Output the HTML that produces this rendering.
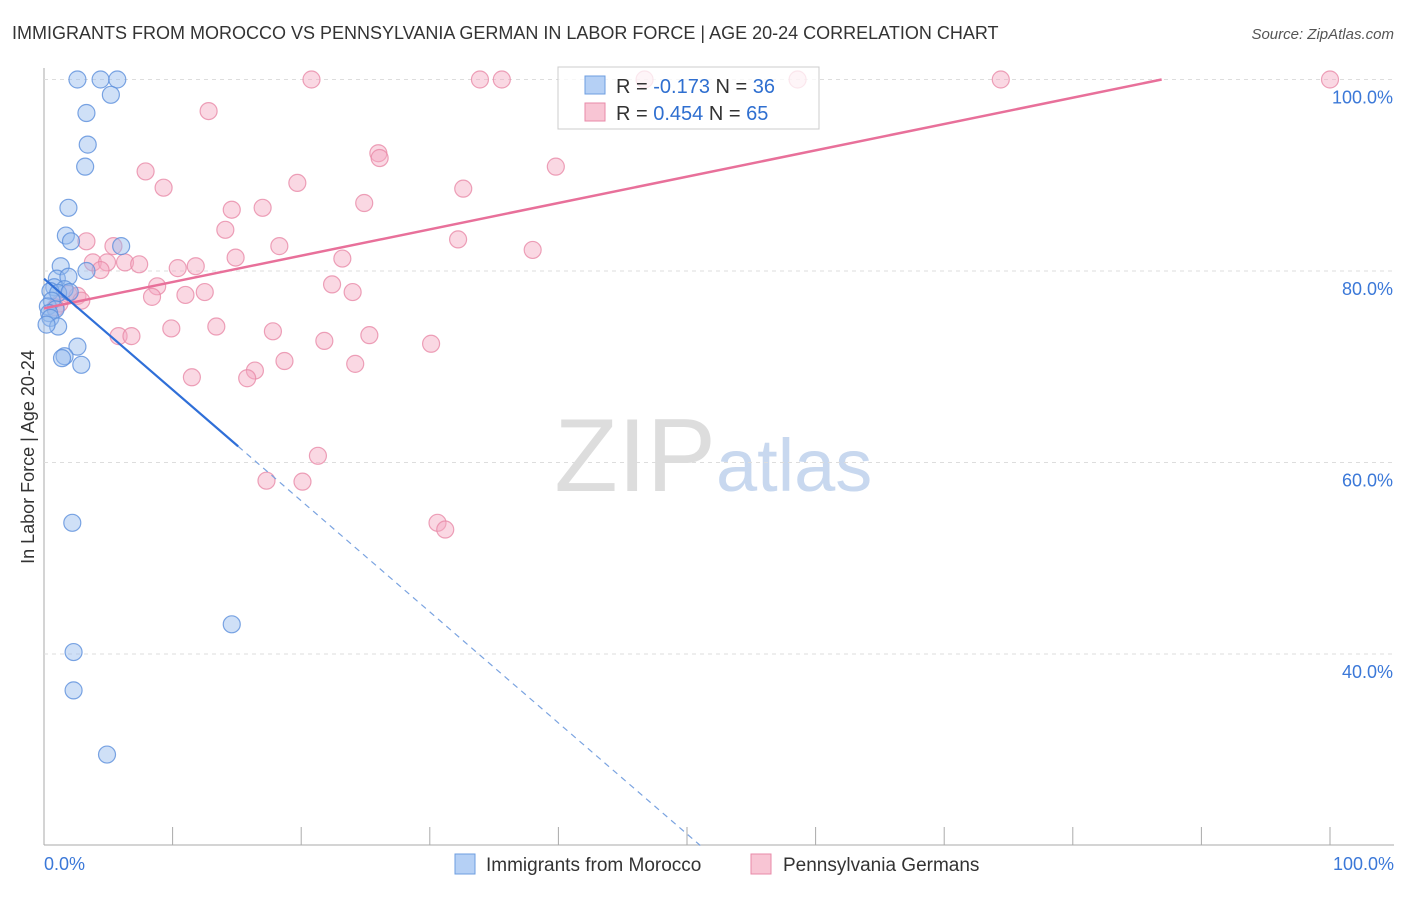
<!DOCTYPE html>
<html><head><meta charset="utf-8"><style>
body{margin:0;background:#fff;font-family:"Liberation Sans",sans-serif;}
svg text{font-family:"Liberation Sans",sans-serif;}
</style></head><body>
<svg id="c" width="1406" height="892">
<text x="12" y="39" font-size="18" fill="#333">IMMIGRANTS FROM MOROCCO VS PENNSYLVANIA GERMAN IN LABOR FORCE | AGE 20-24 CORRELATION CHART</text>
<text x="1394" y="39" font-size="15" fill="#555" font-style="italic" text-anchor="end">Source: ZipAtlas.com</text>
<text x="716" y="491" font-size="104" fill="#ddd" text-anchor="end" font-family="Liberation Serif">ZIP</text>
<text x="716" y="491" font-size="74" fill="#c8d8ef">atlas</text>
<text transform="translate(34,457) rotate(-90)" font-size="18" fill="#333" text-anchor="middle">In Labor Force | Age 20-24</text>
<g id="grid"></g><g id="marks"></g>
<g>
<rect x="558" y="67" width="261" height="62" fill="#fff" fill-opacity="0.75" stroke="#ccc"/>
<rect x="585" y="76" width="20" height="18" fill="#b5d0f5" stroke="#6d9ee0"/>
<text x="616" y="93" font-size="20" fill="#333">R = <tspan fill="#2f6fd0">-0.173</tspan>   N = <tspan fill="#2f6fd0">36</tspan></text>
<rect x="585" y="103" width="20" height="18" fill="#f8c5d4" stroke="#e88aa8"/>
<text x="616" y="120" font-size="20" fill="#333">R =  <tspan fill="#2f6fd0">0.454</tspan>   N = <tspan fill="#2f6fd0">65</tspan></text>
</g>
<g>
<rect x="455" y="854" width="20" height="20" fill="#b5d0f5" stroke="#6d9ee0"/>
<text x="486" y="871" font-size="19" fill="#333">Immigrants from Morocco</text>
<rect x="751" y="854" width="20" height="20" fill="#f8c5d4" stroke="#e88aa8"/>
<text x="783" y="871" font-size="19" fill="#333">Pennsylvania Germans</text>
</g>
</svg>
<script>
const yTicks=[40,60,80,100];
const xTickLabels=["0.0%","100.0%"];
const blueX=[2.6,4.4,5.7,5.2,3.3,3.4,3.2,1.9,1.7,2.1,6.0,1.3,3.3,1.0,1.9,0.8,1.6,0.5,1.1,2.0,0.6,0.3,0.9,0.4,0.5,1.1,0.2,2.6,1.6,1.4,2.9,2.2,14.6,2.3,2.3,4.9];
const blueY=[100,100,100,98.4,96.5,93.2,90.9,86.6,83.7,83.1,82.6,80.5,80.0,79.2,79.4,78.3,78.1,77.9,77.7,77.8,76.9,76.3,76.0,75.6,75.1,74.2,74.4,72.1,71.1,70.9,70.2,53.7,43.1,40.2,36.2,29.5];
const pinkX=[20.8,33.9,35.6,46.7,58.6,74.4,100,12.8,26.0,26.1,7.9,9.3,39.8,19.7,32.6,24.9,14.6,17.0,14.1,3.3,32.2,5.4,18.3,38.0,6.3,14.9,3.8,4.9,7.4,4.4,10.4,11.8,23.2,8.8,22.4,12.5,11.0,8.4,24.0,1.9,2.6,2.9,1.2,0.9,13.4,9.9,5.8,6.8,17.8,25.3,21.8,30.1,18.7,24.2,16.4,11.5,15.8,21.3,17.3,20.1,30.6,31.2];
const pinkY=[100,100,100,100,100,100,100,96.7,92.3,91.8,90.4,88.7,90.9,89.2,88.6,87.1,86.4,86.6,84.3,83.1,83.3,82.6,82.6,82.2,80.9,81.4,80.9,80.9,80.7,80.1,80.3,80.5,81.3,78.4,78.6,77.8,77.5,77.3,77.8,77.6,77.4,76.9,76.6,76.2,74.2,74.0,73.2,73.2,73.7,73.3,72.7,72.4,70.6,70.3,69.6,68.9,68.8,60.7,58.1,58.0,53.7,53.0];
const blueTrend=[79.2,-1.16];  // intercept, slope
const pinkTrend=[76.1,0.275];
const X=v=>44+v*12.86, Y=v=>79.5+(100-v)*9.575;
const NS="http://www.w3.org/2000/svg";
function mk(p,t,a){const e=document.createElementNS(NS,t);for(const k in a)e.setAttribute(k,a[k]);p.appendChild(e);return e;}
const g=document.getElementById('grid'),m=document.getElementById('marks');
let ax=mk(g,'line',{x1:44,y1:68,x2:44,y2:845,stroke:'#aaa'});


let bx=mk(g,'line',{x1:44,y1:845,x2:1394,y2:845,stroke:'#aaa'});


for(let i=1;i<=10;i++){const t=mk(g,'line',{x1:X(i*10),y1:827,x2:X(i*10),y2:845,stroke:'#aaa'});

}
yTicks.forEach(v=>{const l=mk(g,'line',{x1:44,y1:Y(v),x2:1394,y2:Y(v),stroke:'#ddd','stroke-dasharray':'4,4'});


const t=mk(g,'text',{x:1393,y:Y(v)+24,'font-size':18,fill:'#3b78d8','text-anchor':'end'});t.textContent=v.toFixed(1)+'%';

});
[[0,'start',44],[1,'end',1394]].forEach(([i,a,x])=>{const t=mk(g,'text',{x:x,y:870,'font-size':18,fill:'#3b78d8','text-anchor':a});t.textContent=xTickLabels[i];

});
function dots(xs,ys,f,s,n){xs.forEach((x,i)=>{const c=mk(m,'circle',{cx:X(x),cy:Y(ys[i]),r:8.5,fill:f,'fill-opacity':0.45,stroke:s,'stroke-opacity':0.8,'stroke-width':1.2});

});}
dots(pinkX,pinkY,'#f5a9c0','#e88aa8','pink-point');
dots(blueX,blueY,'#94bbee','#5b8fdc','blue-point');
const px2=(100-pinkTrend[0])/pinkTrend[1];
let pl=mk(m,'line',{x1:X(0),y1:Y(pinkTrend[0]),x2:X(px2),y2:Y(100),stroke:'#e8709a','stroke-width':2.5});


const bs=15.1,be=(20-blueTrend[0])/blueTrend[1];
let bl=mk(m,'line',{x1:X(0),y1:Y(blueTrend[0]),x2:X(bs),y2:Y(blueTrend[0]+blueTrend[1]*bs),stroke:'#2f6fd8','stroke-width':2.2});


let bd=mk(m,'line',{x1:X(bs),y1:Y(blueTrend[0]+blueTrend[1]*bs),x2:X(be),y2:Y(20),stroke:'#7aa3e0','stroke-width':1.2,'stroke-dasharray':'6,5'});


</script>
</body></html>
